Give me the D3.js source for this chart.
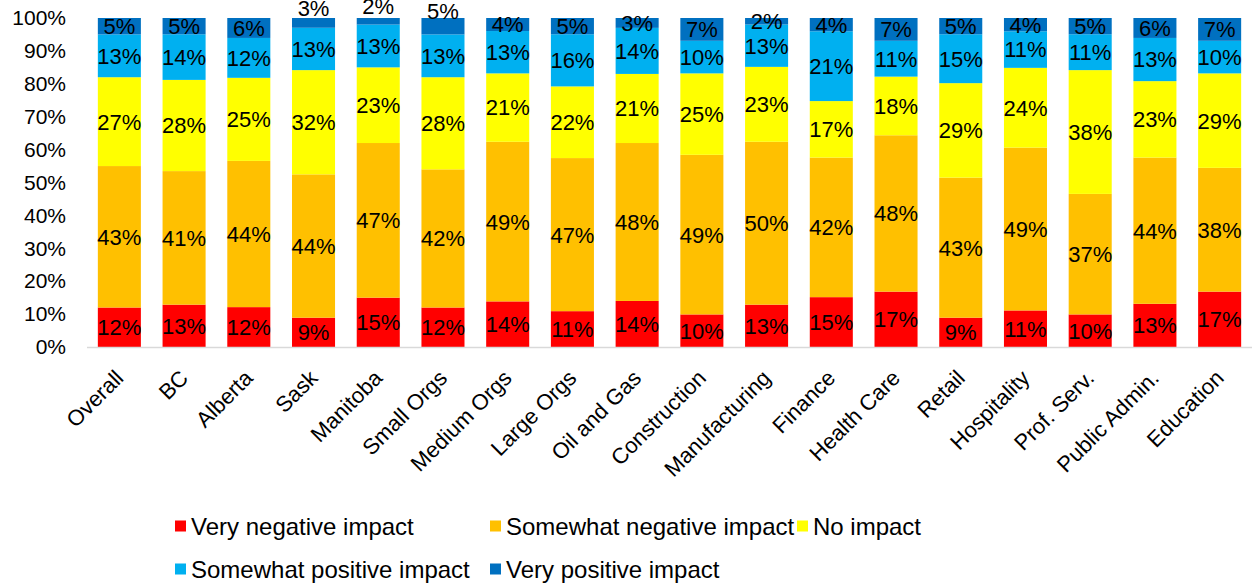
<!DOCTYPE html>
<html>
<head>
<meta charset="utf-8">
<script src="https://cdn.jsdelivr.net/npm/d3@7"></script>
<style>
  html, body { margin: 0; padding: 0; background: #fff; }
  svg { display: block; font-family: "Liberation Sans", Arial, sans-serif; }
</style>
</head>
<body>
<svg id="chart" width="1252" height="584"></svg>
<script>
// Survey categories (x axis)
const categories = ["Overall", "BC", "Alberta", "Sask", "Manitoba", "Small Orgs", "Medium Orgs",
  "Large Orgs", "Oil and Gas", "Construction", "Manufacturing", "Finance", "Health Care",
  "Retail", "Hospitality", "Prof. Serv.", "Public Admin.", "Education"];

// Series names, bottom to top
const seriesNames = ["Very negative impact", "Somewhat negative impact", "No impact",
  "Somewhat positive impact", "Very positive impact"];

// Percent of respondents per category, one array per series
const veryNegative     = [12, 13, 12,  9, 15, 12, 14, 11, 14, 10, 13, 15, 17,  9, 11, 10, 13, 17];
const somewhatNegative = [43, 41, 44, 44, 47, 42, 49, 47, 48, 49, 50, 42, 48, 43, 49, 37, 44, 38];
const noImpact         = [27, 28, 25, 32, 23, 28, 21, 22, 21, 25, 23, 17, 18, 29, 24, 38, 23, 29];
const somewhatPositive = [13, 14, 12, 13, 13, 13, 13, 16, 14, 10, 13, 21, 11, 15, 11, 11, 13, 10];
const veryPositive     = [ 5,  5,  6,  3,  2,  5,  4,  5,  3,  7,  2,  4,  7,  5,  4,  5,  6,  7];

// Y axis tick values (fractions of the whole)
const yTicks = [0, 0.1, 0.2, 0.3, 0.4, 0.5, 0.6, 0.7, 0.8, 0.9, 1.0];

// Categories whose top label is set above the bar
const raisedTopLabel = ["Sask", "Manitoba", "Small Orgs"];

const colors = ["#FF0000", "#FFC000", "#FFFF00", "#00B0F0", "#0070C0"];
const seriesValues = [veryNegative, somewhatNegative, noImpact, somewhatPositive, veryPositive];

const rows = categories.map((c, i) => {
  const r = { category: c };
  seriesNames.forEach((s, k) => { r[s] = seriesValues[k][i]; });
  return r;
});

const svg = d3.select("#chart");
const plot = { left: 87, right: 1252, top: 18, bottom: 347 };

const x = d3.scaleBand().domain(categories).range([plot.left, plot.right]).paddingInner(0.335).paddingOuter(0.1675);
const y = d3.scaleLinear().domain([0, 1]).range([plot.bottom, plot.top]);

const stacked = d3.stack().keys(seriesNames).offset(d3.stackOffsetExpand)(rows);

// Bars
const layer = svg.append("g").selectAll("g").data(stacked).join("g")
  .attr("fill", (d, i) => colors[i]);

layer.selectAll("rect").data(d => d).join("rect")
  .attr("x", d => x(d.data.category))
  .attr("width", x.bandwidth())
  .attr("y", d => y(d[1]))
  .attr("height", d => y(d[0]) - y(d[1]));

// Value labels centred in each segment
const labels = svg.append("g").attr("font-size", 22).attr("fill", "#000").attr("text-anchor", "middle");
stacked.forEach((s, k) => {
  s.forEach(d => {
    let cy = (y(d[0]) + y(d[1])) / 2;
    if (k === seriesNames.length - 1 && raisedTopLabel.includes(d.data.category)) {
      cy -= 15;
    }
    labels.append("text")
      .attr("x", x(d.data.category) + x.bandwidth() / 2)
      .attr("y", cy)
      .attr("dy", "0.36em")
      .text(d.data[s.key] + "%");
  });
});

// Y axis (labels only)
const yAxis = svg.append("g").attr("transform", `translate(${plot.left - 21},0)`)
  .call(d3.axisLeft(y).tickValues(yTicks).tickFormat(d3.format(".0%")).tickSize(0).tickPadding(0));
yAxis.select(".domain").remove();
yAxis.selectAll("text").attr("font-size", 21).attr("fill", "#000")
  .attr("font-family", "Liberation Sans, Arial, sans-serif");

// X baseline
svg.append("line")
  .attr("x1", plot.left).attr("x2", plot.right)
  .attr("y1", plot.bottom + 0.5).attr("y2", plot.bottom + 0.5)
  .attr("stroke", "#d9d9d9").attr("stroke-width", 1.5);

// X axis category labels, rotated
const xAxis = svg.append("g").attr("transform", `translate(0,${plot.bottom})`)
  .call(d3.axisBottom(x).tickSize(0).tickPadding(0));
xAxis.select(".domain").remove();
xAxis.selectAll("text")
  .attr("font-size", 22).attr("fill", "#000")
  .attr("font-family", "Liberation Sans, Arial, sans-serif")
  .attr("text-anchor", "end")
  .attr("transform", "translate(0,27) rotate(-45)")
  .attr("dy", "0.35em").attr("y", 0);

// Legend
const legendPos = [[175, 526], [490, 526], [797, 526], [175, 569], [490, 569]];
const legend = svg.append("g");
seriesNames.forEach((name, i) => {
  const [lx, ly] = legendPos[i];
  const g = legend.append("g").attr("transform", `translate(${lx},${ly})`);
  g.append("rect").attr("x", 0).attr("y", -5.5).attr("width", 11).attr("height", 11).attr("fill", colors[i]);
  g.append("text").attr("x", 16).attr("y", 0).attr("dy", "0.36em")
    .attr("font-size", 24).attr("fill", "#000").text(name);
});
</script>
</body>
</html>
